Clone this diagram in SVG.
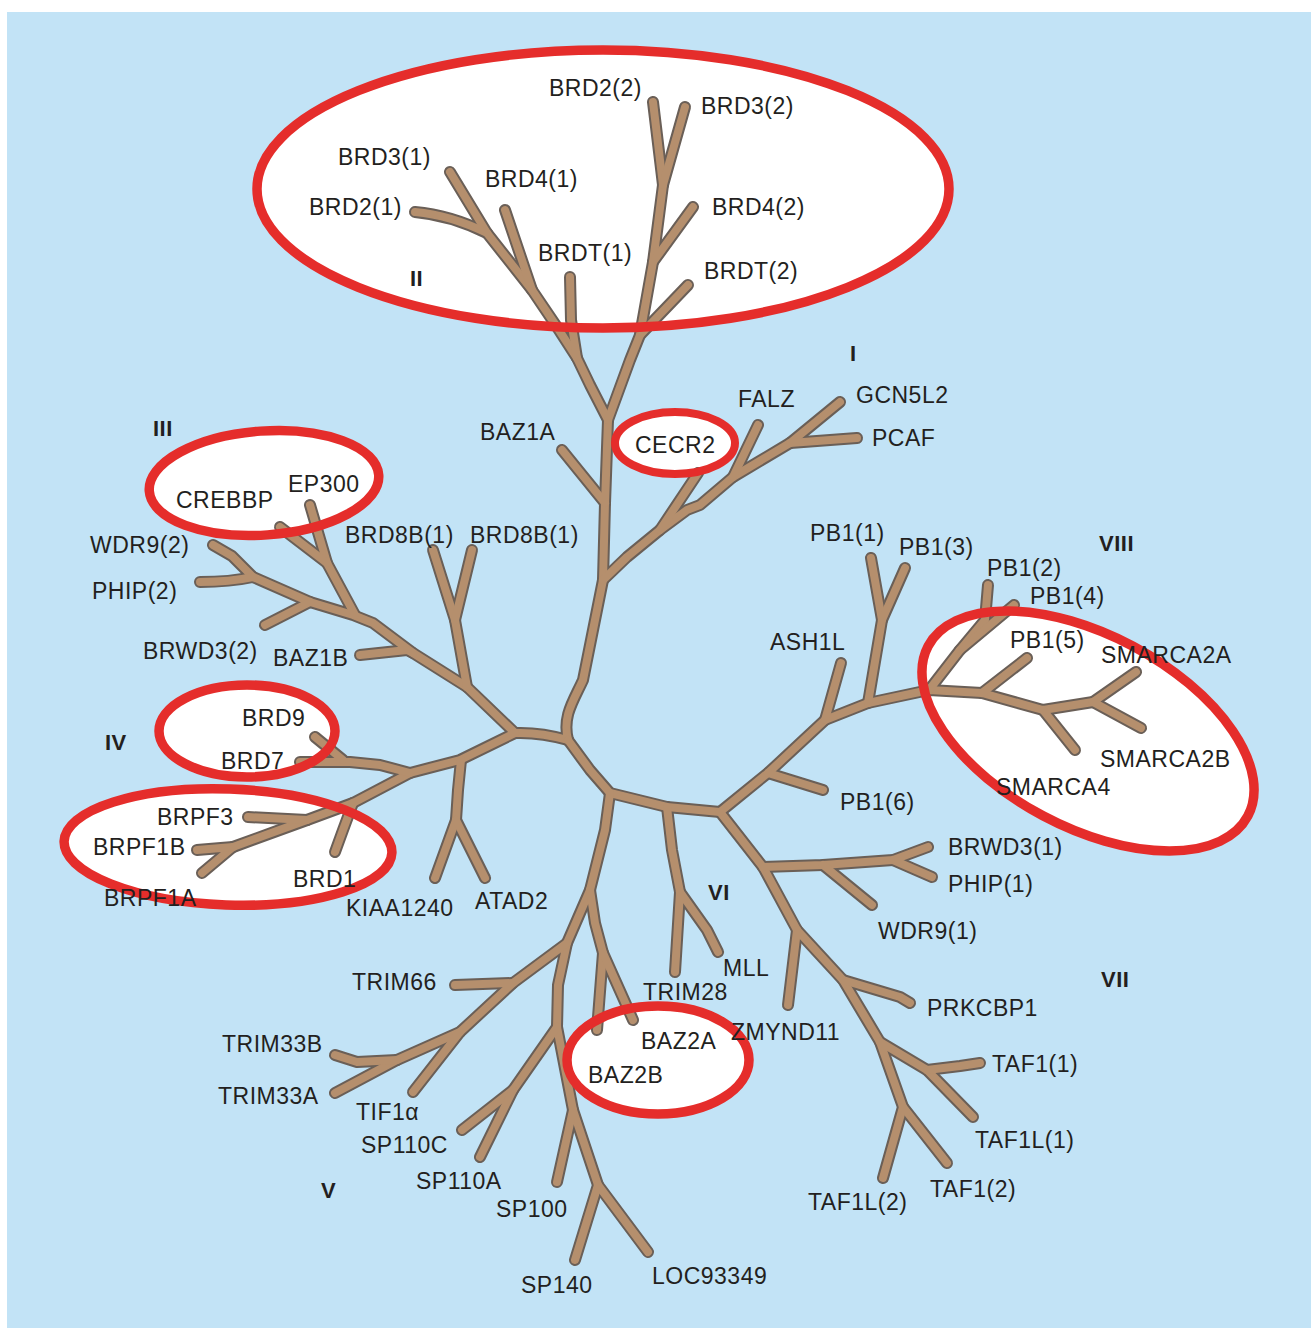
<svg xmlns="http://www.w3.org/2000/svg" xmlns:xlink="http://www.w3.org/1999/xlink" width="1311" height="1328" viewBox="0 0 1311 1328">
<style>
.bg{fill:#c2e3f6}
.lbl{font-family:"Liberation Sans",Arial,sans-serif;font-size:23px;letter-spacing:0.5px;fill:#231f20}
.num{font-family:"Liberation Sans",Arial,sans-serif;font-size:22px;font-weight:bold;letter-spacing:0.5px;fill:#231f20}
.outline{fill:none;stroke:#6a5f57;stroke-width:12;stroke-linecap:round;stroke-linejoin:round}
.core{fill:none;stroke:#b58f6d;stroke-width:8;stroke-linecap:round;stroke-linejoin:round}
.hl-fill{fill:#ffffff;stroke:none}
.hl-ring{fill:none;stroke:#e52d2b;stroke-width:9.5}
</style>
<defs>
<ellipse id="e-II" cx="603" cy="189" rx="346" ry="139"/>
<ellipse id="e-III" cx="264" cy="483" rx="115" ry="52" transform="rotate(-4 264 483)"/>
<ellipse id="e-CECR2" cx="675" cy="443" rx="60" ry="31"/>
<ellipse id="e-IV" cx="247" cy="731" rx="88" ry="46"/>
<ellipse id="e-BRPF" cx="228" cy="847" rx="164" ry="58" transform="rotate(2 228 847)"/>
<ellipse id="e-BAZ2" cx="658" cy="1060" rx="91" ry="54"/>
<ellipse id="e-VIII" cx="1088" cy="731" rx="181" ry="96" transform="rotate(28 1088 731)"/>
</defs>
<rect class="bg" x="7" y="12" width="1304" height="1316"/>
<g id="highlight-fills">
<use xlink:href="#e-II" class="hl-fill"/>
<use xlink:href="#e-III" class="hl-fill"/>
<use xlink:href="#e-CECR2" class="hl-fill"/>
<use xlink:href="#e-IV" class="hl-fill"/>
<use xlink:href="#e-BRPF" class="hl-fill"/>
<use xlink:href="#e-BAZ2" class="hl-fill"/>
<use xlink:href="#e-VIII" class="hl-fill"/>
</g>
<g class="outline">
<g id="connectors">
<!-- centre -->
<path d="M515,733 Q540,732 568,740"/>
<path d="M568,740 C562,716 574,700 583,680 L603,580 L605,503 L608,420"/>
<path d="M568,740 L590,770 L610,793 L667,807 L720,812"/>
<!-- II -->
<path d="M608,420 L590,385 L577,358 L557,327 L532,290 L487,233 L450,172"/>
<path d="M487,233 Q450,215 415,212"/>
<path d="M532,290 L505,210"/>
<path d="M570,277 L571,320 L577,358"/>
<path d="M608,420 L630,360 L640,335 L653,262 L663,185 L653,102"/>
<path d="M663,185 L685,107"/>
<path d="M653,262 L693,207"/>
<path d="M640,335 L688,285"/>
<!-- BAZ1A -->
<path d="M605,503 L562,450"/>
<!-- I -->
<path d="M603,580 L627,557 L660,530 L687,510 L700,505 L733,477 L790,443 L840,402"/>
<path d="M660,530 L698,473"/>
<path d="M733,477 L758,425"/>
<path d="M790,443 L857,438"/>
<!-- III -->
<path d="M515,733 L467,687 L413,653 L373,623 L353,615 L310,602 L253,577 L232,556 L213,545"/>
<path d="M253,577 Q230,582 200,582"/>
<path d="M310,602 L265,625"/>
<path d="M355,615 L327,563 L310,505"/>
<path d="M327,563 L280,527"/>
<path d="M413,653 L407,650 L360,655"/>
<path d="M467,687 L455,620 L433,550"/>
<path d="M455,620 L472,550"/>
<!-- IV -->
<path d="M515,733 L460,760 L410,773 L353,803 L307,820 L233,847 L202,873"/>
<path d="M410,773 L380,765 L350,762 L300,762"/>
<path d="M343,760 L315,737"/>
<path d="M353,803 L343,830 L335,852"/>
<path d="M307,820 L248,817"/>
<path d="M233,847 L197,850"/>
<path d="M461,760 L458,790 L456,820 L435,878"/>
<path d="M456,820 L485,878"/>
<!-- V -->
<path d="M610,793 L605,830 L590,890 L567,943 L558,985 L557,1027 L573,1110 L598,1185 L575,1260"/>
<path d="M590,890 L595,923 L603,953 L597,1030"/>
<path d="M603,953 L633,1020"/>
<path d="M567,943 L513,983 L460,1032 L397,1060 L335,1093"/>
<path d="M513,983 L455,985"/>
<path d="M460,1032 L413,1092"/>
<path d="M397,1060 L357,1062 L335,1055"/>
<path d="M557,1027 L513,1090 L462,1130"/>
<path d="M513,1090 L480,1157"/>
<path d="M573,1110 L557,1182"/>
<path d="M598,1185 L648,1252"/>
<!-- VI -->
<path d="M667,807 L672,850 L680,892 L675,972"/>
<path d="M680,892 L707,930 L718,952"/>
<!-- VII -->
<path d="M720,812 L763,867 L797,930 L843,980 L880,1042 L903,1107 L883,1178"/>
<path d="M903,1107 L947,1163"/>
<path d="M880,1042 L927,1070 L973,1117"/>
<path d="M927,1070 L960,1066 L980,1063"/>
<path d="M843,980 L900,997 L910,1003"/>
<path d="M797,930 L788,1005"/>
<path d="M763,867 L823,865 L893,860 L928,847"/>
<path d="M893,860 L932,877"/>
<path d="M823,865 L872,905"/>
<!-- VIII -->
<path d="M720,812 L768,773 L825,720 L868,703 L929,690 L982,693 L1043,710 L1093,702 L1136,672"/>
<path d="M1093,702 L1141,728"/>
<path d="M1043,710 L1075,750"/>
<path d="M982,693 L1027,658"/>
<path d="M929,690 L960,650 L985,620 L988,585"/>
<path d="M960,650 L1014,605"/>
<path d="M868,703 L882,620 L871,558"/>
<path d="M882,620 L905,568"/>
<path d="M825,720 L841,663"/>
<path d="M768,773 L823,790"/>
</g>
</g>
<use xlink:href="#connectors" class="core"/>
<g id="highlight-rings">
<use xlink:href="#e-II" class="hl-ring"/>
<use xlink:href="#e-III" class="hl-ring"/>
<use xlink:href="#e-CECR2" class="hl-ring" style="stroke-width:8"/>
<use xlink:href="#e-IV" class="hl-ring"/>
<use xlink:href="#e-BRPF" class="hl-ring"/>
<use xlink:href="#e-BAZ2" class="hl-ring"/>
<use xlink:href="#e-VIII" class="hl-ring"/>
</g>
<g id="clade-labels">
<text class="num" x="850" y="361">I</text>
<text class="num" x="410" y="286">II</text>
<text class="num" x="153" y="436">III</text>
<text class="num" x="105" y="750">IV</text>
<text class="num" x="321" y="1198">V</text>
<text class="num" x="708" y="900">VI</text>
<text class="num" x="1101" y="987">VII</text>
<text class="num" x="1099" y="551">VIII</text>
</g>
<g id="n-BRD2-2"><text class="lbl" x="549" y="96">BRD2(2)</text></g>
<g id="n-BRD3-2"><text class="lbl" x="701" y="114">BRD3(2)</text></g>
<g id="n-BRD3-1"><text class="lbl" x="338" y="165">BRD3(1)</text></g>
<g id="n-BRD4-1"><text class="lbl" x="485" y="187">BRD4(1)</text></g>
<g id="n-BRD2-1"><text class="lbl" x="309" y="215">BRD2(1)</text></g>
<g id="n-BRD4-2"><text class="lbl" x="712" y="215">BRD4(2)</text></g>
<g id="n-BRDT-1"><text class="lbl" x="538" y="261">BRDT(1)</text></g>
<g id="n-BRDT-2"><text class="lbl" x="704" y="279">BRDT(2)</text></g>
<g id="n-FALZ"><text class="lbl" x="738" y="407">FALZ</text></g>
<g id="n-GCN5L2"><text class="lbl" x="856" y="403">GCN5L2</text></g>
<g id="n-PCAF"><text class="lbl" x="872" y="446">PCAF</text></g>
<g id="n-CECR2"><text class="lbl" x="635" y="453">CECR2</text></g>
<g id="n-BAZ1A"><text class="lbl" x="480" y="440">BAZ1A</text></g>
<g id="n-EP300"><text class="lbl" x="288" y="492">EP300</text></g>
<g id="n-CREBBP"><text class="lbl" x="176" y="508">CREBBP</text></g>
<g id="n-BRD8B-1a"><text class="lbl" x="345" y="543">BRD8B(1)</text></g>
<g id="n-BRD8B-1b"><text class="lbl" x="470" y="543">BRD8B(1)</text></g>
<g id="n-WDR9-2"><text class="lbl" x="90" y="553">WDR9(2)</text></g>
<g id="n-PHIP-2"><text class="lbl" x="92" y="599">PHIP(2)</text></g>
<g id="n-BRWD3-2"><text class="lbl" x="143" y="659">BRWD3(2)</text></g>
<g id="n-BAZ1B"><text class="lbl" x="273" y="666">BAZ1B</text></g>
<g id="n-BRD9"><text class="lbl" x="242" y="726">BRD9</text></g>
<g id="n-BRD7"><text class="lbl" x="221" y="769">BRD7</text></g>
<g id="n-BRPF3"><text class="lbl" x="157" y="825">BRPF3</text></g>
<g id="n-BRPF1B"><text class="lbl" x="93" y="855">BRPF1B</text></g>
<g id="n-BRD1"><text class="lbl" x="293" y="887">BRD1</text></g>
<g id="n-BRPF1A"><text class="lbl" x="104" y="906">BRPF1A</text></g>
<g id="n-KIAA1240"><text class="lbl" x="346" y="916">KIAA1240</text></g>
<g id="n-ATAD2"><text class="lbl" x="475" y="909">ATAD2</text></g>
<g id="n-PB1-1"><text class="lbl" x="810" y="541">PB1(1)</text></g>
<g id="n-PB1-3"><text class="lbl" x="899" y="555">PB1(3)</text></g>
<g id="n-PB1-2"><text class="lbl" x="987" y="576">PB1(2)</text></g>
<g id="n-PB1-4"><text class="lbl" x="1030" y="604">PB1(4)</text></g>
<g id="n-ASH1L"><text class="lbl" x="770" y="650">ASH1L</text></g>
<g id="n-PB1-5"><text class="lbl" x="1010" y="648">PB1(5)</text></g>
<g id="n-SMARCA2A"><text class="lbl" x="1101" y="663">SMARCA2A</text></g>
<g id="n-SMARCA2B"><text class="lbl" x="1100" y="767">SMARCA2B</text></g>
<g id="n-SMARCA4"><text class="lbl" x="996" y="795">SMARCA4</text></g>
<g id="n-PB1-6"><text class="lbl" x="840" y="810">PB1(6)</text></g>
<g id="n-BRWD3-1"><text class="lbl" x="948" y="855">BRWD3(1)</text></g>
<g id="n-PHIP-1"><text class="lbl" x="948" y="892">PHIP(1)</text></g>
<g id="n-WDR9-1"><text class="lbl" x="878" y="939">WDR9(1)</text></g>
<g id="n-MLL"><text class="lbl" x="723" y="976">MLL</text></g>
<g id="n-TRIM66"><text class="lbl" x="352" y="990">TRIM66</text></g>
<g id="n-TRIM28"><text class="lbl" x="643" y="1000">TRIM28</text></g>
<g id="n-PRKCBP1"><text class="lbl" x="927" y="1016">PRKCBP1</text></g>
<g id="n-ZMYND11"><text class="lbl" x="731" y="1040">ZMYND11</text></g>
<g id="n-BAZ2A"><text class="lbl" x="641" y="1049">BAZ2A</text></g>
<g id="n-TRIM33B"><text class="lbl" x="222" y="1052">TRIM33B</text></g>
<g id="n-TAF1-1"><text class="lbl" x="992" y="1072">TAF1(1)</text></g>
<g id="n-BAZ2B"><text class="lbl" x="588" y="1083">BAZ2B</text></g>
<g id="n-TRIM33A"><text class="lbl" x="218" y="1104">TRIM33A</text></g>
<g id="n-TIF1a"><text class="lbl" x="356" y="1120">TIF1α</text></g>
<g id="n-TAF1L-1"><text class="lbl" x="975" y="1148">TAF1L(1)</text></g>
<g id="n-SP110C"><text class="lbl" x="361" y="1153">SP110C</text></g>
<g id="n-SP110A"><text class="lbl" x="416" y="1189">SP110A</text></g>
<g id="n-TAF1-2"><text class="lbl" x="930" y="1197">TAF1(2)</text></g>
<g id="n-TAF1L-2"><text class="lbl" x="808" y="1210">TAF1L(2)</text></g>
<g id="n-SP100"><text class="lbl" x="496" y="1217">SP100</text></g>
<g id="n-LOC93349"><text class="lbl" x="652" y="1284">LOC93349</text></g>
<g id="n-SP140"><text class="lbl" x="521" y="1293">SP140</text></g>
</svg>
